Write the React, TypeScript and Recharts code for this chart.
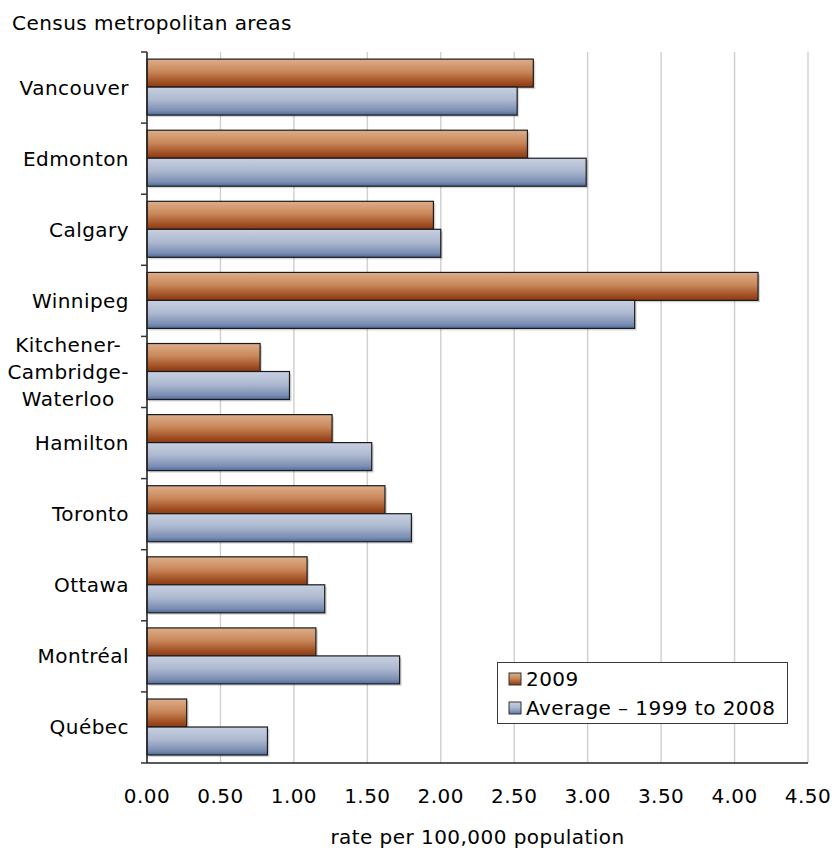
import React from 'react'
import { BarChart, Bar, XAxis, YAxis, CartesianGrid, Legend } from 'recharts'

const cities = [
  'Vancouver',
  'Edmonton',
  'Calgary',
  'Winnipeg',
  'Kitchener-Cambridge-Waterloo',
  'Hamilton',
  'Toronto',
  'Ottawa',
  'Montréal',
  'Québec',
]
const rate2009 = [2.63, 2.59, 1.95, 4.16, 0.77, 1.26, 1.62, 1.09, 1.15, 0.27]
const rateAverage = [2.52, 2.99, 2.0, 3.32, 0.97, 1.53, 1.8, 1.21, 1.72, 0.82]
const xTicks = [0, 0.5, 1, 1.5, 2, 2.5, 3, 3.5, 4, 4.5]

const seriesNames = { y2009: '2009', avg: 'Average \u2013 1999 to 2008' }

const FONT = '"DejaVu Sans", Verdana, sans-serif'
const FONT_SIZE = 20
const SPACING = 0.45

const data = cities.map((name, i) => ({ name, y2009: rate2009[i], avg: rateAverage[i] }))

let measureCtx: CanvasRenderingContext2D | null = null
const textWidth = (s: string) => {
  if (!measureCtx) {
    measureCtx = document.createElement('canvas').getContext('2d')
  }
  if (!measureCtx) return s.length * 11
  measureCtx.font = `${FONT_SIZE}px ${FONT}`
  return measureCtx.measureText(s).width + s.length * SPACING
}

// category labels, right aligned, with tick marks on the band edges
const CityTick = (props: any) => {
  const { x, y, payload, index } = props
  const half = payload && payload.offset ? payload.offset : 35.5
  const lines: string[] = String(payload.value).split(/(?<=-)/)
  const right = x - 18
  const isLast = index === cities.length - 1
  let labels
  if (lines.length === 1) {
    labels = (
      <text x={right} y={y} dy="0.35em" textAnchor="end" fill="#000" fontSize={FONT_SIZE} fontFamily={FONT} letterSpacing={SPACING}>
        {lines[0]}
      </text>
    )
  } else {
    const w = Math.max(...lines.map(textWidth))
    labels = (
      <text textAnchor="middle" fill="#000" fontSize={FONT_SIZE} fontFamily={FONT} letterSpacing={SPACING}>
        {lines.map((l, i) => (
          <tspan key={i} x={right - w / 2} y={y + (i - (lines.length - 1) / 2) * 27} dy="0.35em">
            {l}
          </tspan>
        ))}
      </text>
    )
  }
  return (
    <g>
      <line x1={x - 6} x2={x} y1={y - half} y2={y - half} stroke="#333" strokeWidth={1.5} />
      {isLast && <line x1={x - 6} x2={x} y1={y + half} y2={y + half} stroke="#333" strokeWidth={1.5} />}
      {labels}
    </g>
  )
}

const shadedBar = (fillId: string) => (props: any) => {
  const { x, y, width, height } = props
  if (!width || width <= 0) return <g />
  return (
    <g>
      <rect x={x + 2} y={y + 2} width={width} height={height} fill="#000" opacity={0.16} />
      <rect x={x} y={y} width={width} height={height} fill={`url(#${fillId})`} stroke="#1a1a1a" strokeWidth={1.2} />
    </g>
  )
}

const GradStops = ({ kind }: { kind: 'orange' | 'blue' }) =>
  kind === 'orange' ? (
    <>
      <stop offset="0%" stopColor="#ddae8b" />
      <stop offset="45%" stopColor="#c98759" />
      <stop offset="85%" stopColor="#9d4a1f" />
      <stop offset="100%" stopColor="#8a3b14" />
    </>
  ) : (
    <>
      <stop offset="0%" stopColor="#c8d0e1" />
      <stop offset="45%" stopColor="#adb9d0" />
      <stop offset="85%" stopColor="#7a8db2" />
      <stop offset="100%" stopColor="#4d6a9a" />
    </>
  )

const LegendBox = (props: any) => {
  const items = props.payload || []
  return (
    <div
      style={{
        boxSizing: 'border-box',
        width: 291,
        height: 62,
        border: '1px solid #3a3a3a',
        background: '#fff',
        position: 'relative',
        fontFamily: FONT,
        fontSize: FONT_SIZE,
        letterSpacing: SPACING,
        color: '#000',
      }}
    >
      {items.map((item: any, i: number) => {
        const kind = item.dataKey === 'y2009' ? 'orange' : 'blue'
        return (
          <div key={i} style={{ position: 'absolute', left: 10, top: 2 + i * 29, height: 28, display: 'flex', alignItems: 'center', whiteSpace: 'nowrap' }}>
            <svg width={14} height={14} style={{ marginRight: 4 }}>
              <defs>
                <linearGradient id={`lg-${kind}`} x1="0" y1="0" x2="0" y2="1">
                  <GradStops kind={kind} />
                </linearGradient>
              </defs>
              <rect x={1} y={1} width={12} height={12} fill={`url(#lg-${kind})`} stroke="#333" strokeWidth={1} />
            </svg>
            <span style={{ lineHeight: '28px' }}>{item.value}</span>
          </div>
        )
      })}
    </div>
  )
}

export default function App() {
  return (
    <div style={{ position: 'absolute', left: 0, top: 0, width: 836, height: 848, background: '#fff' }}>
      <svg width={836} height={50} style={{ position: 'absolute', left: 0, top: 0 }}>
        <text x={12} y={30} fontSize={FONT_SIZE} fontFamily={FONT} letterSpacing={SPACING} fill="#000">
          Census metropolitan areas
        </text>
      </svg>
      <BarChart
        width={836}
        height={848}
        data={data}
        layout="vertical"
        margin={{ top: 52, right: 28, left: 0, bottom: 0 }}
        barCategoryGap="10%"
        barGap={0}
      >
        <defs>
          <linearGradient id="g-orange" x1="0" y1="0" x2="0" y2="1">
            <GradStops kind="orange" />
          </linearGradient>
          <linearGradient id="g-blue" x1="0" y1="0" x2="0" y2="1">
            <GradStops kind="blue" />
          </linearGradient>
        </defs>
        <CartesianGrid horizontal={false} stroke="#d2d2d2" strokeWidth={1.5} />
        <XAxis
          type="number"
          domain={[0, 4.5]}
          ticks={xTicks}
          tickFormatter={(v: number) => v.toFixed(2)}
          height={85}
          tickLine={false}
          tickSize={0}
          tickMargin={26}
          axisLine={{ stroke: '#222', strokeWidth: 1.5 }}
          tick={{ fill: '#000', fontSize: FONT_SIZE, fontFamily: FONT, letterSpacing: SPACING }}
          interval={0}
          label={{
            value: 'rate per 100,000 population',
            position: 'insideBottom',
            offset: 4,
            fill: '#000',
            fontSize: FONT_SIZE,
            fontFamily: FONT,
            letterSpacing: SPACING,
          }}
        />
        <XAxis
          xAxisId="top"
          orientation="top"
          type="number"
          domain={[0, 4.5]}
          height={0}
          tick={false}
          tickLine={false}
          axisLine={{ stroke: '#222', strokeWidth: 1.5 }}
        />
        <YAxis
          type="category"
          dataKey="name"
          width={147}
          tickSize={0}
          tickMargin={0}
          tickLine={false}
          axisLine={{ stroke: '#222', strokeWidth: 1.5 }}
          tick={<CityTick />}
          interval={0}
        />
        <YAxis
          yAxisId="right"
          orientation="right"
          type="category"
          dataKey="name"
          width={0}
          tick={false}
          tickLine={false}
          axisLine={{ stroke: '#222', strokeWidth: 1.5 }}
        />
        <Legend
          layout="horizontal"
          verticalAlign="middle"
          align="center"
          wrapperStyle={{ left: 497, top: 662, width: 291, height: 62 }}
          content={<LegendBox />}
        />
        <Bar
          dataKey="y2009"
          name={seriesNames.y2009}
          fill="#b5683a"
          shape={shadedBar('g-orange')}
          isAnimationActive={false}
        />
        <Bar
          dataKey="avg"
          name={seriesNames.avg}
          fill="#8898bb"
          shape={shadedBar('g-blue')}
          isAnimationActive={false}
        />
      </BarChart>
    </div>
  )
}
